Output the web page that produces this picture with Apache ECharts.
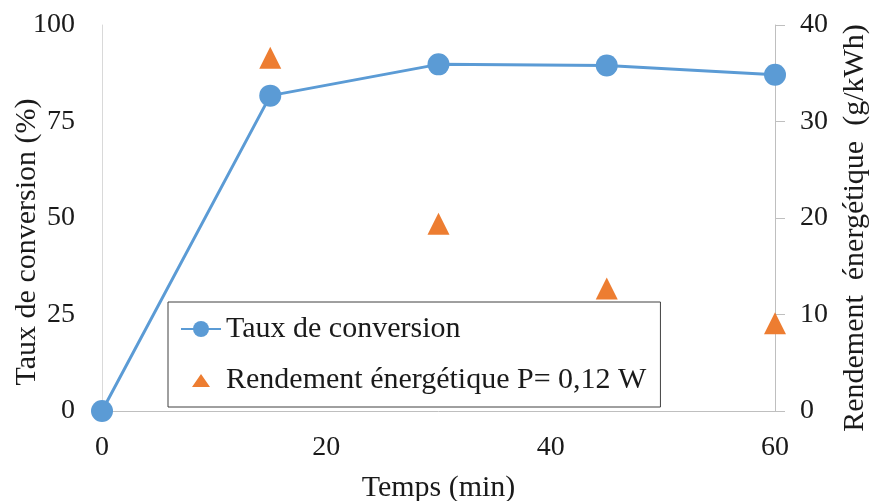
<!DOCTYPE html>
<html>
<head>
<meta charset="utf-8">
<script src="https://cdn.jsdelivr.net/npm/echarts@6/dist/echarts.min.js"></script>
<style>
html,body{margin:0;padding:0;background:#fff;}
#chart{width:870px;height:501px;}
</style>
</head>
<body>
<div id="chart"></div>
<script>
var timeMin = [0, 15, 30, 45, 60];
var tauxConversion = [0, 81.7, 89.8, 89.5, 87.1];
var rendementTime = [15, 30, 45, 60];
var rendement = [36.6, 19.4, 12.7, 9.1];
var seriesNames = ['Taux de conversion', 'Rendement énergétique P= 0,12 W'];

var font = 'Liberation Serif';
var txt = '#1a1a1a';
var chart = echarts.init(document.getElementById('chart'));
chart.setOption({
  animation: false,
  textStyle: {fontFamily: font},
  grid: {left: 102, right: 95, top: 25, bottom: 90, containLabel: false, outerBoundsMode: 'none'},
  legend: {
    orient: 'vertical',
    left: 168, top: 302,
    padding: [12, 14, 12, 12],
    backgroundColor: '#fff',
    borderColor: '#404040',
    borderWidth: 1,
    itemGap: 21,
    itemWidth: 40,
    itemHeight: 20,
    itemStyle: {borderWidth: 0, opacity: 1},
    textStyle: {fontFamily: font, fontSize: 30, color: txt, padding: [0, 0, 0, 0]},
    data: [
      {name: seriesNames[0]},
      {name: seriesNames[1], icon: 'path://M0,0 L0,0 Z M40,20 L40,20 Z M11,17 L20,4 L29,17 Z'}
    ]
  },
  xAxis: {
    type: 'value', min: 0, max: 60, interval: 20,
    name: 'Temps (min)', nameLocation: 'middle', nameGap: 62, nameMoveOverlap: false,
    nameTextStyle: {fontFamily: font, fontSize: 30, color: txt},
    axisLine: {show: true, lineStyle: {color: '#bfbfbf', width: 1}},
    axisTick: {show: false},
    splitLine: {show: false},
    axisLabel: {fontFamily: font, fontSize: 28, color: txt, margin: 23}
  },
  yAxis: [{
    type: 'value', min: 0, max: 100, interval: 25,
    name: 'Taux de conversion (%)', nameLocation: 'middle', nameGap: 60, nameRotate: 90, nameMoveOverlap: false,
    nameTextStyle: {fontFamily: font, fontSize: 30, color: txt, padding: [0, 48, 0, 0]},
    axisLine: {show: true, lineStyle: {color: '#d9d9d9', width: 1}},
    axisTick: {show: false},
    splitLine: {show: false},
    axisLabel: {fontFamily: font, fontSize: 28, color: txt, margin: 27, padding: [7, 0, 0, 0]}
  }, {
    type: 'value', min: 0, max: 40, interval: 10, position: 'right',
    name: 'Rendement  énergétique  (g/kWh)', nameLocation: 'middle', nameGap: 65, nameRotate: 90, nameMoveOverlap: false,
    nameTextStyle: {fontFamily: font, fontSize: 30, color: txt, padding: [0, 20, 0, 0]},
    axisLine: {show: true, lineStyle: {color: '#bfbfbf', width: 1}},
    axisTick: {show: true, length: 10, lineStyle: {color: '#bfbfbf'}},
    splitLine: {show: false},
    axisLabel: {fontFamily: font, fontSize: 28, color: txt, margin: 25, padding: [7, 0, 0, 0]}
  }],
  series: [{
    name: seriesNames[0], type: 'line', yAxisIndex: 0,
    data: timeMin.map(function(t, i){ return [t, tauxConversion[i]]; }),
    symbol: 'circle', symbolSize: 22, clip: false,
    lineStyle: {color: '#5B9BD5', width: 3},
    itemStyle: {color: '#5B9BD5', opacity: 1}
  }, {
    name: seriesNames[1], type: 'scatter', yAxisIndex: 1,
    data: rendementTime.map(function(t, i){ return [t, rendement[i]]; }),
    symbol: 'triangle', symbolSize: [22, 22], clip: false,
    itemStyle: {color: '#ED7D31', opacity: 1}
  }]
});
</script>
</body>
</html>
